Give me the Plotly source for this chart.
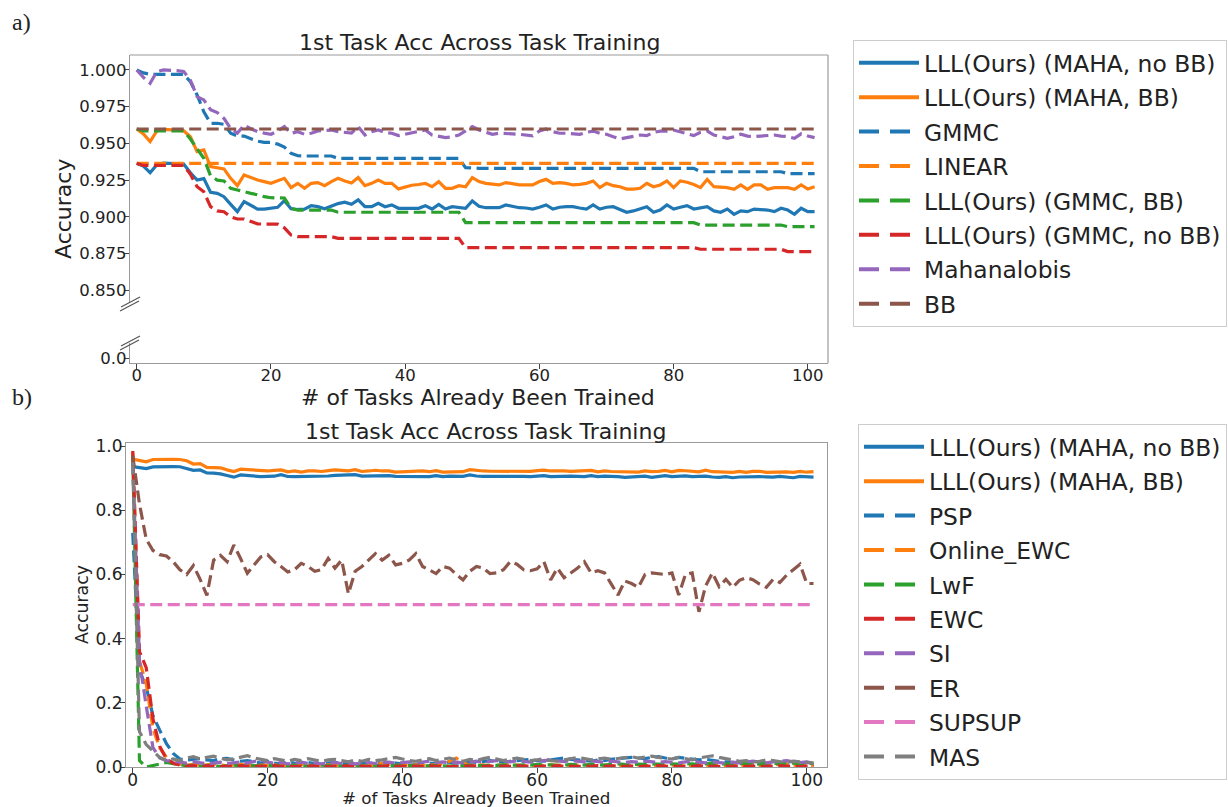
import plotly.graph_objects as go

# ---------------- data : panel a ----------------
TASKS = list(range(102))
CONST_X = [0, 101]

MAHA_NO_BB = [
    0.9365, 0.9345, 0.9300, 0.9355, 0.9365, 0.9365, 0.9362, 0.9360, 0.9300, 0.9250,
    0.9260, 0.9167, 0.9160, 0.9137, 0.9085, 0.9035, 0.9103, 0.9080, 0.9053, 0.9053,
    0.9060, 0.9065, 0.9110, 0.9055, 0.9050, 0.9052, 0.9076, 0.9069, 0.9055, 0.9072,
    0.9090, 0.9099, 0.9085, 0.9115, 0.9069, 0.9069, 0.9092, 0.9069, 0.9081, 0.9058,
    0.9058, 0.9058, 0.9058, 0.9076, 0.9053, 0.9085, 0.9053, 0.9069, 0.9065, 0.9058,
    0.9108, 0.9072, 0.9062, 0.9062, 0.9062, 0.9081, 0.9070, 0.9062, 0.9060, 0.9053,
    0.9065, 0.9081, 0.9053, 0.9065, 0.9069, 0.9069, 0.9060, 0.9053, 0.9081, 0.9053,
    0.9065, 0.9069, 0.9050, 0.9031, 0.9040, 0.9053, 0.9069, 0.9031, 0.9046, 0.9081,
    0.9053, 0.9065, 0.9076, 0.9053, 0.9062, 0.9069, 0.9040, 0.9031, 0.9053, 0.9017,
    0.9040, 0.9035, 0.9053, 0.9050, 0.9046, 0.9035, 0.9058, 0.9046, 0.9017, 0.9058,
    0.9035, 0.9035]

MAHA_BB = [
    0.9598, 0.9565, 0.9512, 0.9585, 0.9595, 0.9595, 0.9590, 0.9585, 0.9545, 0.9444,
    0.9455, 0.9342, 0.9335, 0.9326, 0.9262, 0.9212, 0.9285, 0.9267, 0.9251, 0.9240,
    0.9228, 0.9245, 0.9262, 0.9199, 0.9228, 0.9194, 0.9228, 0.9233, 0.9212, 0.9240,
    0.9262, 0.9244, 0.9230, 0.9267, 0.9212, 0.9228, 0.9251, 0.9228, 0.9228, 0.9190,
    0.9205, 0.9215, 0.9220, 0.9228, 0.9205, 0.9239, 0.9194, 0.9194, 0.9212, 0.9205,
    0.9267, 0.9240, 0.9228, 0.9220, 0.9217, 0.9233, 0.9225, 0.9217, 0.9217, 0.9217,
    0.9240, 0.9255, 0.9228, 0.9233, 0.9228, 0.9217, 0.9221, 0.9228, 0.9244, 0.9199,
    0.9228, 0.9212, 0.9205, 0.9189, 0.9189, 0.9194, 0.9228, 0.9205, 0.9217, 0.9244,
    0.9199, 0.9244, 0.9235, 0.9220, 0.9199, 0.9255, 0.9205, 0.9202, 0.9199, 0.9187,
    0.9217, 0.9187, 0.9217, 0.9217, 0.9187, 0.9199, 0.9199, 0.9199, 0.9187, 0.9217,
    0.9189, 0.9205]

GMMC = [
    1.0000, 0.9980, 0.9970, 0.9970, 0.9970, 0.9970, 0.9970, 0.9970, 0.9920, 0.9830,
    0.9715, 0.9637, 0.9637, 0.9630, 0.9570, 0.9550, 0.9550, 0.9530, 0.9515, 0.9507,
    0.9507, 0.9495, 0.9475, 0.9432, 0.9416, 0.9414, 0.9414, 0.9414, 0.9414, 0.9414,
    0.9398, 0.9398, 0.9398, 0.9398, 0.9398, 0.9398, 0.9398, 0.9398, 0.9398, 0.9398,
    0.9398, 0.9398, 0.9398, 0.9398, 0.9398, 0.9398, 0.9398, 0.9398, 0.9398, 0.9335,
    0.9330, 0.9330, 0.9330, 0.9330, 0.9330, 0.9330, 0.9330, 0.9330, 0.9330, 0.9330,
    0.9330, 0.9330, 0.9330, 0.9330, 0.9330, 0.9330, 0.9330, 0.9330, 0.9330, 0.9330,
    0.9330, 0.9330, 0.9330, 0.9330, 0.9330, 0.9330, 0.9330, 0.9330, 0.9330, 0.9330,
    0.9330, 0.9330, 0.9330, 0.9330, 0.9307, 0.9307, 0.9307, 0.9307, 0.9307, 0.9307,
    0.9307, 0.9307, 0.9307, 0.9307, 0.9307, 0.9307, 0.9307, 0.9294, 0.9294, 0.9294,
    0.9294, 0.9294]

LINEAR = [0.9364, 0.9364]

GMMC_BB = [
    0.9598, 0.9585, 0.9585, 0.9585, 0.9585, 0.9585, 0.9585, 0.9585, 0.9530, 0.9460,
    0.9398, 0.9280, 0.9250, 0.9244, 0.9194, 0.9183, 0.9170, 0.9160, 0.9150, 0.9137,
    0.9130, 0.9130, 0.9128, 0.9058, 0.9046, 0.9046, 0.9046, 0.9046, 0.9046, 0.9046,
    0.9031, 0.9031, 0.9031, 0.9031, 0.9031, 0.9031, 0.9031, 0.9031, 0.9031, 0.9031,
    0.9031, 0.9031, 0.9031, 0.9031, 0.9031, 0.9031, 0.9031, 0.9031, 0.9031, 0.8960,
    0.8960, 0.8960, 0.8960, 0.8960, 0.8960, 0.8960, 0.8960, 0.8960, 0.8960, 0.8960,
    0.8960, 0.8960, 0.8960, 0.8960, 0.8960, 0.8960, 0.8960, 0.8960, 0.8960, 0.8960,
    0.8960, 0.8960, 0.8960, 0.8960, 0.8960, 0.8960, 0.8960, 0.8960, 0.8960, 0.8960,
    0.8960, 0.8960, 0.8960, 0.8960, 0.8944, 0.8944, 0.8944, 0.8944, 0.8944, 0.8944,
    0.8944, 0.8944, 0.8944, 0.8944, 0.8944, 0.8944, 0.8944, 0.8933, 0.8933, 0.8933,
    0.8933, 0.8933]

GMMC_NO_BB = [
    0.9364, 0.9350, 0.9350, 0.9350, 0.9350, 0.9350, 0.9350, 0.9350, 0.9290, 0.9205,
    0.9170, 0.9069, 0.9040, 0.9035, 0.9000, 0.8985, 0.8985, 0.8967, 0.8952, 0.8950,
    0.8950, 0.8950, 0.8925, 0.8876, 0.8865, 0.8865, 0.8865, 0.8865, 0.8865, 0.8865,
    0.8853, 0.8853, 0.8853, 0.8853, 0.8853, 0.8853, 0.8853, 0.8853, 0.8853, 0.8853,
    0.8853, 0.8853, 0.8853, 0.8853, 0.8853, 0.8853, 0.8853, 0.8853, 0.8853, 0.8790,
    0.8790, 0.8790, 0.8790, 0.8790, 0.8790, 0.8790, 0.8790, 0.8790, 0.8790, 0.8790,
    0.8790, 0.8790, 0.8790, 0.8790, 0.8790, 0.8790, 0.8790, 0.8790, 0.8790, 0.8790,
    0.8790, 0.8790, 0.8790, 0.8790, 0.8790, 0.8790, 0.8790, 0.8790, 0.8790, 0.8790,
    0.8790, 0.8790, 0.8790, 0.8790, 0.8779, 0.8779, 0.8779, 0.8779, 0.8779, 0.8779,
    0.8779, 0.8779, 0.8779, 0.8779, 0.8779, 0.8779, 0.8779, 0.8763, 0.8763, 0.8763,
    0.8763, 0.8763]

MAHALANOBIS = [
    1.0000, 0.9950, 0.9909, 0.9990, 1.0000, 1.0000, 0.9995, 0.9990, 0.9930, 0.9818,
    0.9796, 0.9730, 0.9710, 0.9670, 0.9600, 0.9570, 0.9625, 0.9600, 0.9580, 0.9570,
    0.9562, 0.9584, 0.9614, 0.9569, 0.9580, 0.9562, 0.9569, 0.9585, 0.9588, 0.9591,
    0.9580, 0.9575, 0.9570, 0.9614, 0.9557, 0.9580, 0.9591, 0.9575, 0.9569, 0.9553,
    0.9562, 0.9575, 0.9584, 0.9591, 0.9557, 0.9550, 0.9539, 0.9545, 0.9557, 0.9585,
    0.9614, 0.9591, 0.9575, 0.9562, 0.9569, 0.9569, 0.9565, 0.9562, 0.9555, 0.9551,
    0.9584, 0.9598, 0.9580, 0.9569, 0.9569, 0.9565, 0.9562, 0.9575, 0.9584, 0.9569,
    0.9562, 0.9545, 0.9530, 0.9539, 0.9546, 0.9557, 0.9553, 0.9575, 0.9584, 0.9584,
    0.9591, 0.9580, 0.9569, 0.9553, 0.9575, 0.9584, 0.9557, 0.9546, 0.9535, 0.9545,
    0.9562, 0.9550, 0.9546, 0.9550, 0.9553, 0.9557, 0.9550, 0.9546, 0.9535, 0.9565,
    0.9550, 0.9539]

BB = [0.9598, 0.9598]

# ---------------- data : panel b ----------------
PSP = [
    0.73, 0.30, 0.25, 0.16, 0.115, 0.073, 0.042, 0.025, 0.022, 0.024,
    0.026, 0.022, 0.020, 0.026, 0.027, 0.022, 0.018, 0.020, 0.015, 0.012,
    0.018, 0.012, 0.010, 0.015, 0.012, 0.010, 0.014, 0.012, 0.008, 0.012,
    0.015, 0.010, 0.013, 0.009, 0.012, 0.010, 0.014, 0.011, 0.009, 0.012,
    0.010, 0.012, 0.008, 0.010, 0.012, 0.010, 0.013, 0.015, 0.012, 0.014,
    0.016, 0.014, 0.018, 0.020, 0.017, 0.015, 0.018, 0.020, 0.022, 0.024,
    0.020, 0.018, 0.022, 0.025, 0.028, 0.024, 0.022, 0.020, 0.018, 0.022,
    0.020, 0.024, 0.026, 0.028, 0.030, 0.028, 0.026, 0.030, 0.032, 0.028,
    0.025, 0.030, 0.028, 0.025, 0.022, 0.024, 0.020, 0.018, 0.016, 0.015,
    0.012, 0.014, 0.010, 0.012, 0.010, 0.012, 0.010, 0.008, 0.010, 0.012,
    0.010, 0.008]

ONLINE_EWC = [
    0.98, 0.33, 0.26, 0.12, 0.06, 0.03, 0.012, 0.008, 0.006, 0.008,
    0.005, 0.007, 0.010, 0.006, 0.004, 0.006, 0.008, 0.005, 0.004, 0.006,
    0.005, 0.007, 0.004, 0.006, 0.005, 0.008, 0.006, 0.004, 0.005, 0.007,
    0.006, 0.004, 0.005, 0.007, 0.005, 0.004, 0.006, 0.012, 0.008, 0.005,
    0.006, 0.004, 0.007, 0.005, 0.006, 0.008, 0.010, 0.018, 0.028, 0.012,
    0.006, 0.005, 0.007, 0.004, 0.006, 0.005, 0.007, 0.006, 0.004, 0.005,
    0.006, 0.004, 0.007, 0.005, 0.006, 0.004, 0.005, 0.007, 0.005, 0.004,
    0.006, 0.005, 0.004, 0.006, 0.005, 0.007, 0.004, 0.005, 0.006, 0.004,
    0.005, 0.007, 0.005, 0.004, 0.006, 0.005, 0.004, 0.006, 0.005, 0.007,
    0.004, 0.005, 0.006, 0.004, 0.005, 0.006, 0.008, 0.010, 0.006, 0.005,
    0.004, 0.006]

LWF = [
    0.97, 0.02, 0.000, 0.004, 0.010, 0.014, 0.010, 0.006, 0.004, 0.006,
    0.003, 0.005, 0.004, 0.002, 0.004, 0.006, 0.003, 0.005, 0.004, 0.003,
    0.005, 0.004, 0.006, 0.003, 0.004, 0.005, 0.003, 0.004, 0.006, 0.004,
    0.003, 0.005, 0.004, 0.006, 0.003, 0.004, 0.005, 0.003, 0.004, 0.006,
    0.004, 0.005, 0.003, 0.004, 0.006, 0.005, 0.004, 0.003, 0.005, 0.004,
    0.006, 0.005, 0.004, 0.006, 0.005, 0.007, 0.006, 0.005, 0.007, 0.006,
    0.008, 0.006, 0.007, 0.005, 0.006, 0.008, 0.007, 0.006, 0.008, 0.007,
    0.006, 0.008, 0.010, 0.008, 0.007, 0.009, 0.008, 0.010, 0.009, 0.008,
    0.010, 0.009, 0.011, 0.010, 0.008, 0.010, 0.012, 0.010, 0.009, 0.011,
    0.010, 0.012, 0.010, 0.009, 0.011, 0.012, 0.010, 0.011, 0.012, 0.010,
    0.011, 0.012]

EWC = [
    0.985, 0.36, 0.31, 0.15, 0.065, 0.025, 0.012, 0.006, 0.003, 0.004,
    0.002, 0.004, 0.003, 0.001, 0.003, 0.002, 0.004, 0.002, 0.001, 0.003,
    0.002, 0.004, 0.002, 0.003, 0.001, 0.003, 0.002, 0.004, 0.002, 0.001,
    0.003, 0.002, 0.004, 0.002, 0.003, 0.001, 0.003, 0.002, 0.004, 0.002,
    0.003, 0.001, 0.003, 0.002, 0.004, 0.002, 0.003, 0.001, 0.002, 0.003,
    0.002, 0.004, 0.002, 0.003, 0.001, 0.003, 0.002, 0.004, 0.002, 0.003,
    0.001, 0.003, 0.002, 0.004, 0.002, 0.003, 0.001, 0.003, 0.002, 0.004,
    0.002, 0.003, 0.004, 0.002, 0.003, 0.001, 0.003, 0.002, 0.004, 0.002,
    0.003, 0.001, 0.003, 0.002, 0.004, 0.002, 0.003, 0.001, 0.003, 0.002,
    0.004, 0.002, 0.003, 0.001, 0.003, 0.002, 0.004, 0.002, 0.003, 0.001,
    0.003, 0.002]

SI = [
    0.95, 0.33, 0.19, 0.06, 0.028, 0.020, 0.018, 0.015, 0.012, 0.016,
    0.014, 0.010, 0.012, 0.015, 0.011, 0.013, 0.016, 0.012, 0.018, 0.022,
    0.015, 0.012, 0.014, 0.010, 0.012, 0.015, 0.011, 0.013, 0.010, 0.012,
    0.014, 0.011, 0.013, 0.010, 0.012, 0.014, 0.011, 0.013, 0.015, 0.012,
    0.014, 0.016, 0.012, 0.015, 0.018, 0.014, 0.016, 0.012, 0.015, 0.013,
    0.016, 0.018, 0.015, 0.017, 0.020, 0.018, 0.016, 0.019, 0.017, 0.015,
    0.018, 0.020, 0.022, 0.019, 0.017, 0.020, 0.018, 0.016, 0.019, 0.017,
    0.015, 0.018, 0.016, 0.014, 0.017, 0.015, 0.018, 0.016, 0.014, 0.017,
    0.015, 0.013, 0.016, 0.018, 0.015, 0.013, 0.016, 0.014, 0.012, 0.015,
    0.013, 0.016, 0.018, 0.015, 0.013, 0.016, 0.018, 0.020, 0.016, 0.014,
    0.016, 0.012]

ER = [
    0.970, 0.820, 0.710, 0.675, 0.662, 0.658, 0.640, 0.615, 0.600, 0.628,
    0.585, 0.535, 0.645, 0.660, 0.640, 0.692, 0.650, 0.604, 0.630, 0.655,
    0.662, 0.640, 0.625, 0.608, 0.615, 0.635, 0.625, 0.610, 0.615, 0.650,
    0.620, 0.645, 0.540, 0.610, 0.625, 0.645, 0.665, 0.645, 0.660, 0.630,
    0.635, 0.645, 0.665, 0.625, 0.615, 0.603, 0.625, 0.620, 0.600, 0.583,
    0.610, 0.625, 0.620, 0.603, 0.605, 0.615, 0.640, 0.632, 0.615, 0.612,
    0.618, 0.640, 0.583, 0.620, 0.590, 0.605, 0.620, 0.640, 0.605, 0.612,
    0.605, 0.570, 0.536, 0.580, 0.572, 0.560, 0.600, 0.605, 0.602, 0.600,
    0.605, 0.536, 0.600, 0.605, 0.484, 0.565, 0.605, 0.562, 0.585, 0.560,
    0.582, 0.590, 0.584, 0.570, 0.560, 0.585, 0.575, 0.598, 0.615, 0.632,
    0.572, 0.572]

SUPSUP = [0.506, 0.506]

MAS = [
    0.95, 0.11, 0.07, 0.05, 0.030, 0.020, 0.025, 0.020, 0.028, 0.032,
    0.025, 0.030, 0.034, 0.028, 0.022, 0.026, 0.030, 0.035, 0.028, 0.024,
    0.020, 0.026, 0.022, 0.018, 0.024, 0.020, 0.026, 0.022, 0.018, 0.022,
    0.024, 0.020, 0.016, 0.022, 0.018, 0.024, 0.020, 0.022, 0.026, 0.030,
    0.025, 0.020, 0.018, 0.022, 0.026, 0.020, 0.024, 0.028, 0.022, 0.018,
    0.024, 0.020, 0.026, 0.030, 0.025, 0.020, 0.024, 0.028, 0.024, 0.020,
    0.022, 0.026, 0.020, 0.018, 0.022, 0.026, 0.030, 0.026, 0.022, 0.025,
    0.028, 0.024, 0.026, 0.030, 0.032, 0.028, 0.030, 0.034, 0.030, 0.028,
    0.025, 0.030, 0.026, 0.022, 0.028, 0.032, 0.035, 0.030, 0.026, 0.022,
    0.018, 0.020, 0.016, 0.018, 0.022, 0.020, 0.016, 0.014, 0.018, 0.016,
    0.014, 0.012]

A_TICKS = [0.850, 0.875, 0.900, 0.925, 0.950, 0.975, 1.000]
B_TICKS = [0.0, 0.2, 0.4, 0.6, 0.8, 1.0]
X_TICKS = [0, 20, 40, 60, 80, 100]

TITLE = "1st Task Acc Across Task Training"
XLABEL = "# of Tasks Already Been Trained"
YLABEL = "Accuracy"

BLUE, ORANGE, GREEN, RED = "#1f77b4", "#ff7f0e", "#2ca02c", "#d62728"
PURPLE, BROWN, PINK, GRAY = "#9467bd", "#8c564b", "#e377c2", "#7f7f7f"

# ---------------- geometry (pixels of a 1228x807 page) ----------------
W, H = 1228, 807
FONT = "DejaVu Sans"
DASH = "12px,5.5px"          # dash pattern of the plotted lines
LEG_DASH = "20px,11px"       # longer dashes in the legend handles


def fx(p):
    return p / W


def fy(p):
    return 1 - p / H


fig = go.Figure()


def add_panel(series, xa, ya, legend, tag):
    for i, (name, xs, ys, col, dash) in enumerate(series):
        xs_used = xs[:len(ys)] if len(xs) > len(ys) else xs
        fig.add_trace(go.Scatter(
            x=xs_used, y=ys, name=name, mode="lines", showlegend=False,
            line=dict(color=col, width=3.2, dash=dash),
            xaxis=xa, yaxis=ya, legendgroup="%s%d" % (tag, i)))
    # legend handles (thicker, with longer dashes as in the reference)
    for i, (name, xs, ys, col, dash) in enumerate(series):
        fig.add_trace(go.Scatter(
            x=[None], y=[None], name=name, mode="lines", showlegend=True,
            line=dict(color=col, width=4,
                      dash="solid" if dash == "solid" else LEG_DASH),
            xaxis=xa, yaxis=ya, legend=legend, legendgroup="%s%d" % (tag, i)))


panel_a = [
    ("LLL(Ours) (MAHA, no BB)", TASKS, MAHA_NO_BB, BLUE, "solid"),
    ("LLL(Ours) (MAHA, BB)", TASKS, MAHA_BB, ORANGE, "solid"),
    ("GMMC", TASKS, GMMC, BLUE, DASH),
    ("LINEAR", CONST_X, LINEAR, ORANGE, DASH),
    ("LLL(Ours) (GMMC, BB)", TASKS, GMMC_BB, GREEN, DASH),
    ("LLL(Ours) (GMMC, no BB)", TASKS, GMMC_NO_BB, RED, DASH),
    ("Mahanalobis", TASKS, MAHALANOBIS, PURPLE, DASH),
    ("BB", CONST_X, BB, BROWN, DASH),
]
add_panel(panel_a, "x", "y", "legend", "a")

# empty trace so the lower (broken) part of the axis exists
fig.add_trace(go.Scatter(x=[], y=[], xaxis="x", yaxis="y2", showlegend=False))

panel_b = [
    ("LLL(Ours) (MAHA, no BB)", TASKS, MAHA_NO_BB, BLUE, "solid"),
    ("LLL(Ours) (MAHA, BB)", TASKS, MAHA_BB, ORANGE, "solid"),
    ("PSP", TASKS, PSP, BLUE, DASH),
    ("Online_EWC", TASKS, ONLINE_EWC, ORANGE, DASH),
    ("LwF", TASKS, LWF, GREEN, DASH),
    ("EWC", TASKS, EWC, RED, DASH),
    ("SI", TASKS, SI, PURPLE, DASH),
    ("ER", TASKS, ER, BROWN, DASH),
    ("SUPSUP", CONST_X, SUPSUP, PINK, DASH),
    ("MAS", TASKS, MAS, GRAY, DASH),
]
add_panel(panel_b, "x2", "y3", "legend2", "b")

SPINE = "#9a9a9a"
TXT = "#222222"
common = dict(showgrid=False, zeroline=False, ticks="outside", ticklen=5,
              tickwidth=1, tickcolor="#444", showline=True, linecolor=SPINE,
              linewidth=1.2)

fig.update_layout(
    width=W, height=H, margin=dict(l=0, r=0, t=0, b=0, autoexpand=False),
    paper_bgcolor="white", plot_bgcolor="white", showlegend=True,
    font=dict(family=FONT, color=TXT),
    xaxis=dict(domain=[fx(130), fx(828)], range=[-1, 103], anchor="y2",
               tickvals=X_TICKS, ticklabelstandoff=-8,
               tickfont=dict(size=16.5, family=FONT, color=TXT), **common),
    yaxis=dict(domain=[fy(303), fy(55)], range=[0.8413, 1.0102], anchor="x",
               tickvals=A_TICKS, tickformat=".3f", ticklabelstandoff=-6,
               tickfont=dict(size=16.5, family=FONT, color=TXT), **common),
    yaxis2=dict(domain=[fy(363), fy(343)], range=[-0.0125, 0.0375], anchor="x",
                tickvals=[0], ticktext=["0.0"], ticklabelstandoff=-6,
                tickfont=dict(size=16.5, family=FONT, color=TXT), **common),
    xaxis2=dict(domain=[fx(126), fx(827)], range=[-1, 103], anchor="y3",
                tickvals=X_TICKS, mirror=True, ticklabelstandoff=-8,
                tickfont=dict(size=17, family=FONT, color=TXT), **common),
    yaxis3=dict(domain=[fy(767), fy(443)], range=[0, 1.01], anchor="x2",
                tickvals=B_TICKS, tickformat=".1f", mirror=True,
                ticklabelstandoff=-6,
                tickfont=dict(size=17, family=FONT, color=TXT), **common),
    legend=dict(x=fx(853), y=fy(40), xanchor="left", yanchor="top",
                bgcolor="white", bordercolor="#cccccc", borderwidth=1,
                font=dict(size=23.4, family=FONT, color=TXT),
                tracegroupgap=1, itemwidth=60, itemclick=False),
    legend2=dict(x=fx(858), y=fy(424), xanchor="left", yanchor="top",
                 bgcolor="white", bordercolor="#cccccc", borderwidth=1,
                 font=dict(size=23.4, family=FONT, color=TXT),
                 tracegroupgap=1, itemwidth=60, itemclick=False),
)

# frame of panel a (top and right spines, drawn as shapes) and break marks
shapes = [
    dict(type="line", xref="paper", yref="paper", x0=fx(130), x1=fx(828),
         y0=fy(55), y1=fy(55), line=dict(color=SPINE, width=1.2)),
    dict(type="line", xref="paper", yref="paper", x0=fx(828), x1=fx(828),
         y0=fy(55), y1=fy(363), line=dict(color=SPINE, width=1.2)),
]
for (ax0, ay0, ax1, ay1) in [(120, 311, 139, 301), (121, 307, 140, 297),
                             (120, 350, 139, 340), (121, 346, 140, 336)]:
    shapes.append(dict(type="line", xref="paper", yref="paper",
                       x0=fx(ax0), y0=fy(ay0), x1=fx(ax1), y1=fy(ay1),
                       line=dict(color="#555555", width=1.2)))
fig.update_layout(shapes=shapes)

ann = []


def text(s, x, y, size, angle=0, family=FONT, xanchor="center"):
    ann.append(dict(text=s, x=fx(x), y=fy(y), xref="paper", yref="paper",
                    showarrow=False, textangle=angle, xanchor=xanchor,
                    yanchor="middle", font=dict(size=size, family=family, color=TXT)))


text(TITLE, 479, 43, 22)
text(TITLE, 485, 431, 22)
text(XLABEL, 478, 397, 22)
text(XLABEL, 476, 798, 16.7)
text(YLABEL, 63, 209, 22, angle=-90)
text(YLABEL, 82, 605, 17.3, angle=-90)
text("a)", 10, 22, 24, family="Liberation Serif", xanchor="left")
text("b)", 10, 397, 24, family="Liberation Serif", xanchor="left")
fig.update_layout(annotations=ann)

fig.write_html("out.html")
